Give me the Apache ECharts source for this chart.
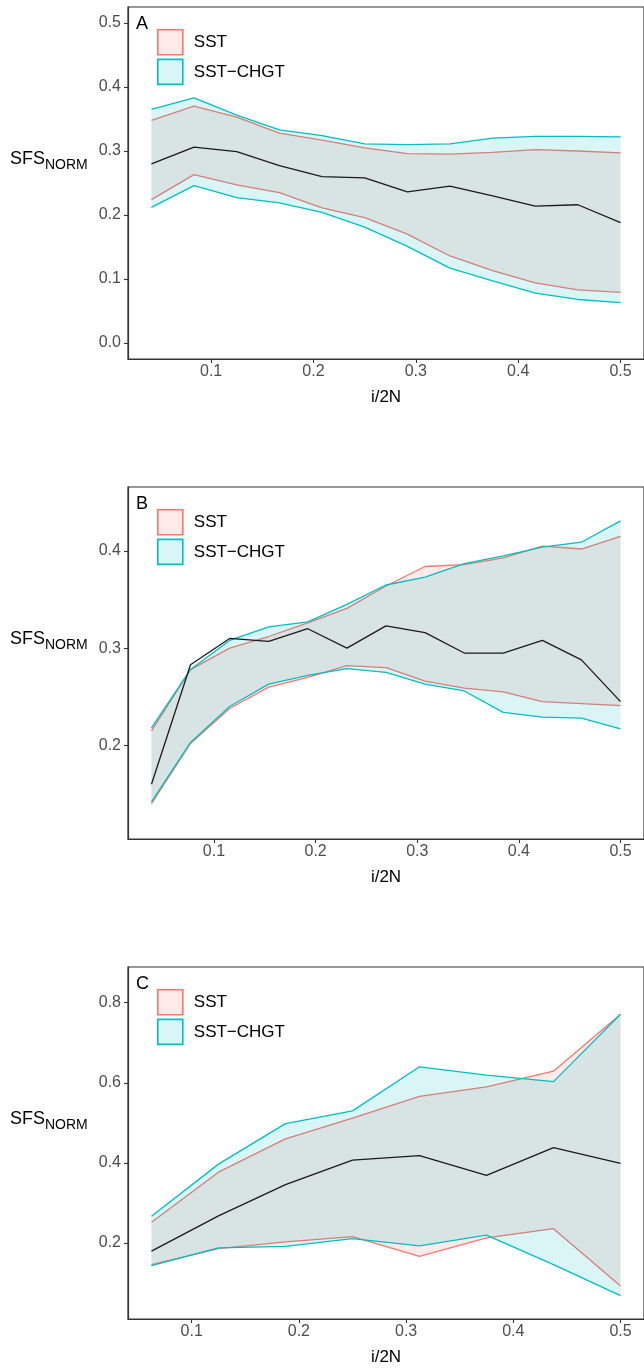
<!DOCTYPE html>
<html>
<head>
<meta charset="utf-8">
<script src="https://cdn.jsdelivr.net/npm/echarts@6/dist/echarts.min.js"></script>
<style>html,body{margin:0;padding:0;background:#fff}#c{width:644px;height:1368px}</style>
</head>
<body>
<div id="c"></div>
<script>
// ---------- data ----------
const xTicks = [0.1, 0.2, 0.3, 0.4, 0.5];

// Panel A
const A_x      = [0.0417,0.0833,0.125,0.1667,0.2083,0.25,0.2917,0.3333,0.375,0.4167,0.4583,0.5];
const A_sstHi  = [0.348,0.370,0.353,0.328,0.317,0.305,0.296,0.295,0.298,0.302,0.300,0.297];
const A_sstLo  = [0.224,0.263,0.247,0.235,0.211,0.196,0.170,0.136,0.113,0.094,0.083,0.079];
const A_chgtHi = [0.365,0.383,0.356,0.333,0.324,0.311,0.310,0.311,0.320,0.323,0.323,0.322];
const A_chgtLo = [0.212,0.246,0.227,0.219,0.204,0.181,0.151,0.117,0.097,0.078,0.068,0.063];
const A_mean   = [0.280,0.306,0.299,0.277,0.260,0.258,0.236,0.245,0.230,0.214,0.216,0.188];
const A_yTicks = [0.0, 0.1, 0.2, 0.3, 0.4, 0.5];

// Panel B
const B_x      = [0.0385,0.0769,0.1154,0.1538,0.1923,0.2308,0.2692,0.3077,0.3462,0.3846,0.4231,0.4615,0.5];
const B_sstHi  = [0.215,0.278,0.300,0.312,0.326,0.341,0.364,0.384,0.386,0.393,0.405,0.402,0.415];
const B_sstLo  = [0.140,0.202,0.238,0.260,0.270,0.282,0.280,0.266,0.259,0.255,0.245,0.243,0.241];
const B_chgtHi = [0.218,0.278,0.308,0.322,0.327,0.345,0.365,0.373,0.387,0.395,0.404,0.409,0.431];
const B_chgtLo = [0.142,0.203,0.240,0.263,0.272,0.279,0.275,0.263,0.256,0.234,0.229,0.228,0.217];
const B_mean   = [0.160,0.283,0.310,0.307,0.320,0.300,0.323,0.316,0.295,0.295,0.308,0.288,0.245];
const B_yTicks = [0.2, 0.3, 0.4];

// Panel C
const C_x      = [0.0625,0.125,0.1875,0.25,0.3125,0.375,0.4375,0.5];
const C_sstHi  = [0.252,0.377,0.460,0.512,0.566,0.590,0.629,0.771];
const C_sstLo  = [0.146,0.186,0.203,0.216,0.167,0.213,0.236,0.093];
const C_chgtHi = [0.267,0.397,0.498,0.530,0.640,0.619,0.603,0.771];
const C_chgtLo = [0.144,0.188,0.192,0.211,0.193,0.220,0.146,0.069];
const C_mean   = [0.180,0.268,0.346,0.407,0.418,0.369,0.438,0.399];
const C_yTicks = [0.2, 0.4, 0.6, 0.8];

const labels = ['A', 'B', 'C'];
const legendNames = ['SST', 'SST\u2212CHGT'];
const xTitle = 'i/2N';
const yTitleMain = 'SFS', yTitleSub = 'NORM';

// ---------- styling / layout ----------
const RED = '#F8766D', CYAN = '#00BFC4';
const RED_FILL = 'rgba(248,118,109,0.15)', CYAN_FILL = 'rgba(0,191,196,0.15)';
const FONT = "'Liberation Sans', Arial, Helvetica, sans-serif";

const panels = [
  {x:A_x, sstHi:A_sstHi, sstLo:A_sstLo, chHi:A_chgtHi, chLo:A_chgtLo, mean:A_mean, yTicks:A_yTicks,
   top:7, xmin:0.0188, xmax:0.5229, ymin:-0.025, ymax:0.525},
  {x:B_x, sstHi:B_sstHi, sstLo:B_sstLo, chHi:B_chgtHi, chLo:B_chgtLo, mean:B_mean, yTicks:B_yTicks,
   top:487, xmin:0.0154, xmax:0.5231, ymin:0.1037, ymax:0.4658},
  {x:C_x, sstHi:C_sstHi, sstLo:C_sstLo, chHi:C_chgtHi, chLo:C_chgtLo, mean:C_mean, yTicks:C_yTicks,
   top:967, xmin:0.0406, xmax:0.5219, ymin:0.0105, ymax:0.889}
];

const grid = [], xAxis = [], yAxis = [], series = [], legend = [], title = [];

function ribbon(i, p, name, lo, hi, fill, z) {
  return {
    type: 'custom', name: name, xAxisIndex: i, yAxisIndex: i, z: z, silent: true,
    itemStyle: {color: fill},
    data: [[p.x[0], lo[0]]],
    renderItem: function (params, api) {
      const pts = [];
      for (let k = 0; k < p.x.length; k++) pts.push(api.coord([p.x[k], hi[k]]));
      for (let k = p.x.length - 1; k >= 0; k--) pts.push(api.coord([p.x[k], lo[k]]));
      return {type: 'polygon', shape: {points: pts}, style: {fill: fill}};
    }
  };
}
function line(i, p, name, vals, color, z) {
  return {
    type: 'line', name: name, xAxisIndex: i, yAxisIndex: i, z: z, silent: true,
    data: p.x.map((xv, k) => [xv, vals[k]]),
    showSymbol: false, symbol: 'none',
    lineStyle: {color: color, width: 1.3}, itemStyle: {color: color}
  };
}

panels.forEach((p, i) => {
  grid.push({left: 128, top: p.top, width: 519, height: 352, show: true,
             borderColor: '#333', borderWidth: 1.2, backgroundColor: 'transparent'});
  xAxis.push({
    type: 'value', gridIndex: i, min: p.xmin, max: p.xmax, position: 'bottom',
    axisLine: {show: true, onZero: false, lineStyle: {color: '#333', width: 1.2}},
    axisTick: {show: true, length: 4, lineStyle: {color: '#333', width: 1.1}, customValues: xTicks},
    axisLabel: {customValues: xTicks, formatter: v => v.toFixed(1), color: '#4D4D4D', fontSize: 16, margin: 5, fontFamily: FONT},
    splitLine: {show: false},
    name: xTitle, nameLocation: 'middle', nameGap: 30,
    nameTextStyle: {fontSize: 17, color: '#000', fontFamily: FONT}
  });
  yAxis.push({
    type: 'value', gridIndex: i, min: p.ymin, max: p.ymax, position: 'left',
    axisLine: {show: true, onZero: false, lineStyle: {color: '#333', width: 1.2}},
    axisTick: {show: true, length: 4, lineStyle: {color: '#333', width: 1.1}, customValues: p.yTicks},
    axisLabel: {customValues: p.yTicks, formatter: v => v.toFixed(1), color: '#4D4D4D', fontSize: 16, margin: 7, fontFamily: FONT},
    splitLine: {show: false}
  });
  series.push(ribbon(i, p, legendNames[0], p.sstLo, p.sstHi, RED_FILL, 1));
  series.push(line(i, p, 'sst_hi_' + i, p.sstHi, RED, 2));
  series.push(line(i, p, 'sst_lo_' + i, p.sstLo, RED, 2));
  series.push(ribbon(i, p, legendNames[1], p.chLo, p.chHi, CYAN_FILL, 3));
  series.push(line(i, p, 'ch_hi_' + i, p.chHi, CYAN, 4));
  series.push(line(i, p, 'ch_lo_' + i, p.chLo, CYAN, 4));
  series.push(line(i, p, 'mean_' + i, p.mean, '#1a1a1a', 5));
  legend.push({
    orient: 'vertical', left: 157, top: p.top + 22, padding: 0,
    itemWidth: 25, itemHeight: 25, itemGap: 3, icon: 'rect', selectedMode: false,
    textStyle: {fontSize: 17, color: '#000', fontFamily: FONT, padding: [0, 0, 0, 6]},
    data: [
      {name: legendNames[0], itemStyle: {color: RED_FILL, borderColor: RED, borderWidth: 1.6}},
      {name: legendNames[1], itemStyle: {color: CYAN_FILL, borderColor: CYAN, borderWidth: 1.6}}
    ]
  });
  title.push({text: labels[i], left: 136, top: p.top + 8, padding: 0,
              textStyle: {fontSize: 18, fontWeight: 'normal', color: '#000', fontFamily: FONT}});
  title.push({text: '{a|' + yTitleMain + '}{b|' + yTitleSub + '}', left: 10, top: p.top + 139, padding: 0,
              textStyle: {fontFamily: FONT, color: '#000', fontWeight: 'normal',
                rich: {
                  a: {fontSize: 18, color: '#000', fontWeight: 'normal', fontFamily: FONT, verticalAlign: 'bottom', lineHeight: 22},
                  b: {fontSize: 14, color: '#000', fontWeight: 'normal', fontFamily: FONT, verticalAlign: 'bottom', lineHeight: 15, padding: [0, 0, -4, 0]}
                }}});
});

const chart = echarts.init(document.getElementById('c'), null, {renderer: 'canvas'});
chart.setOption({
  animation: false,
  backgroundColor: '#fff',
  textStyle: {fontFamily: FONT},
  title: title, legend: legend, grid: grid, xAxis: xAxis, yAxis: yAxis, series: series
});
</script>
</body>
</html>
